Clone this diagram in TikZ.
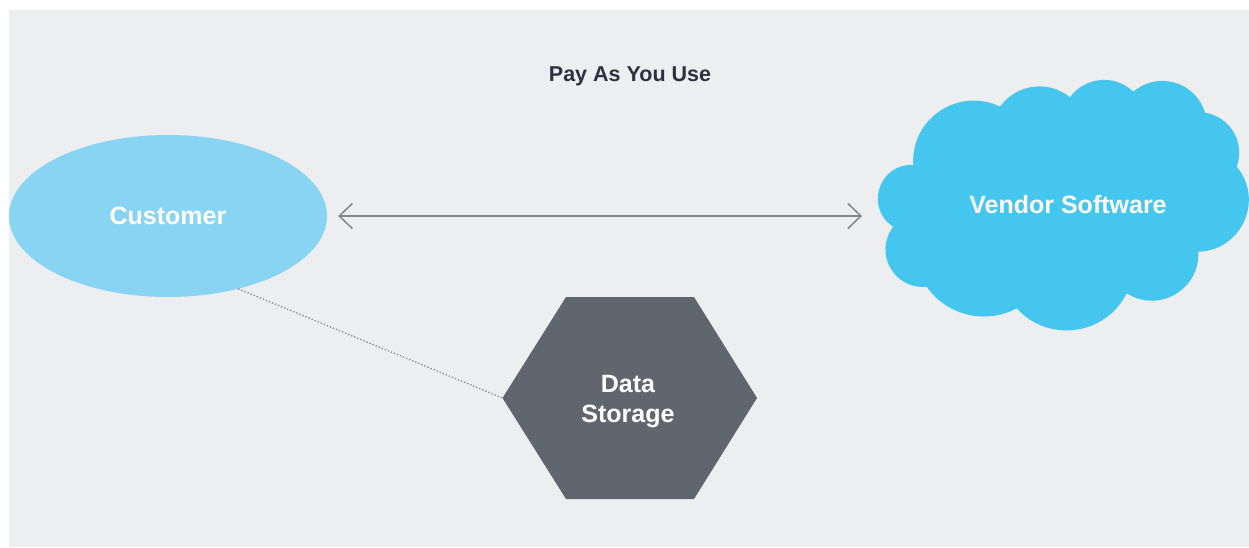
\documentclass[tikz,border=0pt]{standalone}
\usepackage{fontspec}
\setmainfont{Liberation Sans}
\usetikzlibrary{arrows.meta,calc,shapes.geometric}

\definecolor{canvas}{HTML}{EDEEF0}
\definecolor{custblue}{HTML}{87D4F3}
\definecolor{cloudblue}{HTML}{45C6EE}
\definecolor{storegrey}{HTML}{61656D}
\definecolor{linkgrey}{HTML}{85858D}
\definecolor{titleink}{HTML}{2E3140}

\tikzset{
  label text/.style={text=white, font=\fontsize{25}{30}\selectfont\bfseries, align=center},
  titletext/.style={text=titleink, font=\fontsize{21.5}{26}\selectfont\bfseries},
  twoway/.style={draw=linkgrey, line width=1.5pt,
    {Straight Barb[length=13pt,width=25pt,line width=1.5pt]}-{Straight Barb[length=13pt,width=25pt,line width=1.5pt]}},
  dottedlink/.style={draw=linkgrey, line width=1.3pt, dotted},
}

\begin{document}
\begin{tikzpicture}[x=1pt, y=-1pt]
  \useasboundingbox (0,0) rectangle (1249,547);
  \fill[white] (0,0) rectangle (1249,547);
  \fill[canvas] (9,10) rectangle (1249,547);

  % title
  \node[titletext] (title) at (630,76) {Pay As You Use};

  % customer ellipse
  \node[ellipse, fill=custblue, inner sep=0pt, minimum width=318pt, minimum height=162pt,
        label text] (cust) at (168,216) {Customer};

  % cusps of the vendor cloud
  \coordinate (k1)  at (913.3,165);
  \coordinate (k2)  at (893.3,226.7);
  \coordinate (k3)  at (926.7,286.7);
  \coordinate (k4)  at (1016.7,308.3);
  \coordinate (k5)  at (1126.7,293.3);
  \coordinate (k6)  at (1198.3,251.7);
  \coordinate (k7)  at (1236.7,166.7);
  \coordinate (k8)  at (1205,112.7);
  \coordinate (k9)  at (1133.3,91.7);
  \coordinate (k10) at (1070,97.3);
  \coordinate (k11) at (1000,106.7);

  % each lobe is a circular arc between two cusps
  \fill[cloudblue]
    (k1)
    .. controls ($(k1)!0.531!-75.2:(k2)$)  and ($(k2)!0.531!75.2:(k1)$)  .. (k2)
    .. controls ($(k2)!0.478!-66.8:(k3)$)  and ($(k3)!0.478!66.8:(k2)$)  .. (k3)
    .. controls ($(k3)!0.381!-41.6:(k4)$)  and ($(k4)!0.381!41.6:(k3)$)  .. (k4)
    .. controls ($(k4)!0.426!-55.5:(k5)$)  and ($(k5)!0.426!55.5:(k4)$)  .. (k5)
    .. controls ($(k5)!0.457!-62.7:(k6)$)  and ($(k6)!0.457!62.7:(k5)$)  .. (k6)
    .. controls ($(k6)!0.464!-64.2:(k7)$)  and ($(k7)!0.464!64.2:(k6)$)  .. (k7)
    .. controls ($(k7)!0.408!-50.6:(k8)$)  and ($(k8)!0.408!50.6:(k7)$)  .. (k8)
    .. controls ($(k8)!0.432!-57:(k9)$)    and ($(k9)!0.432!57:(k8)$)    .. (k9)
    .. controls ($(k9)!0.403!-49:(k10)$)   and ($(k10)!0.403!49:(k9)$)   .. (k10)
    .. controls ($(k10)!0.396!-46.8:(k11)$) and ($(k11)!0.396!46.8:(k10)$) .. (k11)
    .. controls ($(k11)!0.443!-59.8:(k1)$) and ($(k1)!0.443!59.8:(k11)$) .. (k1)
    -- cycle;
  \node[label text] (vend) at (1068,205) {Vendor Software};

  % data storage hexagon
  \coordinate (hexW) at (502.5,398);
  \fill[storegrey] (hexW) -- (566,297) -- (694,297) -- (757,398) -- (694,499) -- (566,499) -- cycle;
  \node[label text] (store) at (628,402) {Data\\Storage};

  % connectors
  \coordinate (arrL) at ($(cust.east)+(11,0)$);
  \coordinate (arrR) at (862,216);
  \draw[twoway] (arrL) -- (arrR);
  \draw[dottedlink] (cust.-46) -- (hexW);
\end{tikzpicture}
\end{document}
